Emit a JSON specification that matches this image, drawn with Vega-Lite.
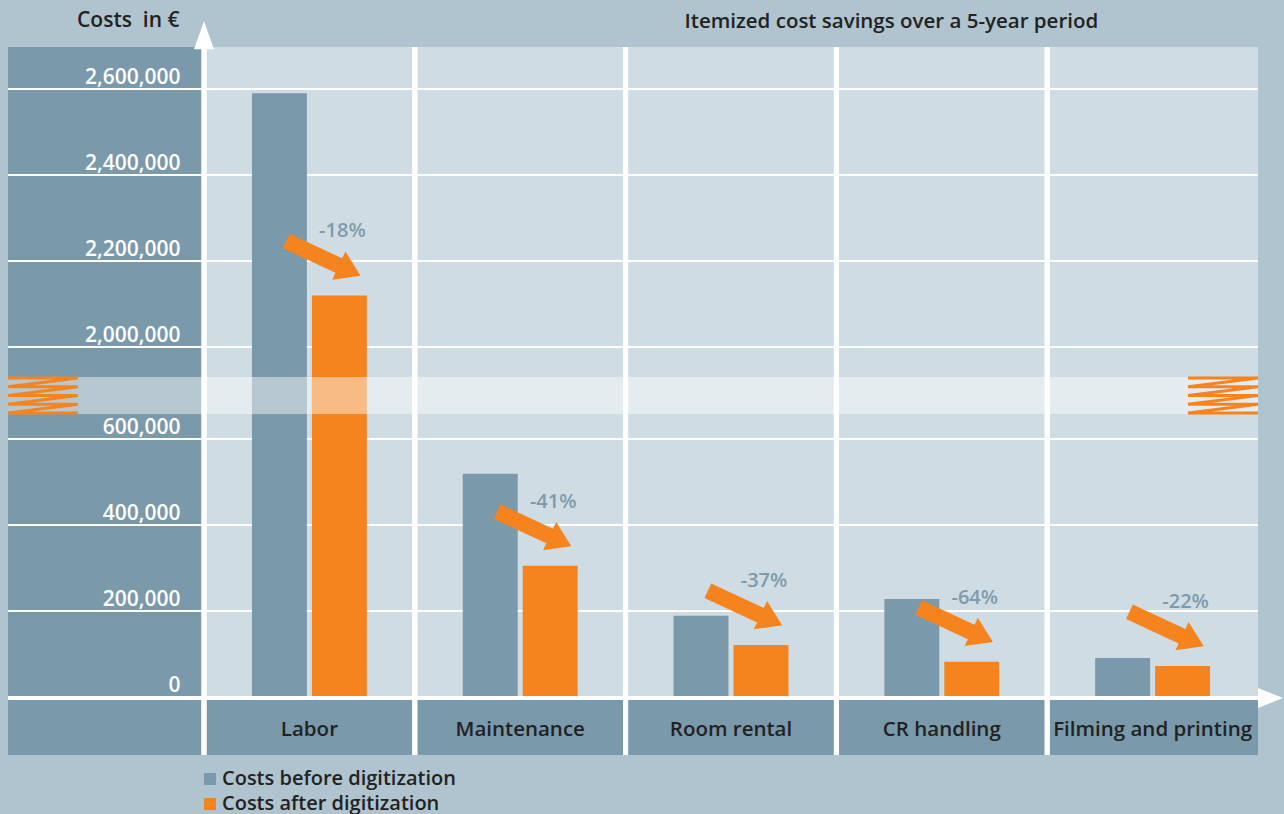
{
  "$schema": "https://vega.github.io/schema/vega-lite/v6.json",
  "width": 1250,
  "height": 708,
  "autosize": {"type": "none"},
  "padding": {"left": 8, "top": 47, "right": 26, "bottom": 59},
  "config": {
    "background": "#afc4ce",
    "view": {"fill": "#7a99aa", "stroke": null},
    "font": "Open Sans"
  },
  "datasets": {
    "costs": [
      {"category": "Labor", "series": "Costs before digitization", "value": 2590000},
      {"category": "Labor", "series": "Costs after digitization", "value": 2120000, "change": "-18%"},
      {"category": "Maintenance", "series": "Costs before digitization", "value": 519000},
      {"category": "Maintenance", "series": "Costs after digitization", "value": 305000, "change": "-41%"},
      {"category": "Room rental", "series": "Costs before digitization", "value": 189000},
      {"category": "Room rental", "series": "Costs after digitization", "value": 121000, "change": "-37%"},
      {"category": "CR handling", "series": "Costs before digitization", "value": 228000},
      {"category": "CR handling", "series": "Costs after digitization", "value": 82000, "change": "-64%"},
      {"category": "Filming and printing", "series": "Costs before digitization", "value": 90700},
      {"category": "Filming and printing", "series": "Costs after digitization", "value": 72000, "change": "-22%"}
    ],
    "gridvals": [
      {"v": 200000}, {"v": 400000}, {"v": 600000},
      {"v": 2000000}, {"v": 2200000}, {"v": 2400000}, {"v": 2600000}
    ],
    "one": [{"k": 1}],
    "heading": [{"label": "Itemized cost savings over a 5-year period"}]
  },
  "layer": [
    {
      "data": {"name": "costs"},
      "mark": {"type": "bar", "opacity": 0},
      "encoding": {
        "x": {"field": "category", "type": "nominal", "sort": null,
              "scale": {"type": "band", "domain": ["Labor", "Maintenance", "Room rental", "CR handling", "Filming and printing"], "range": [196, 1250], "paddingInner": 0, "paddingOuter": 0},
              "axis": {"orient": "bottom", "offset": -26, "domain": false, "ticks": false, "grid": false, "labelPadding": 0, "labelBaseline": "middle", "labelAngle": 0, "labelFont": "Open Sans", "labelFontSize": 20.5, "labelFontWeight": 600, "labelColor": "#222222", "labelLimit": 0, "title": null, "zindex": 1}},
        "y": {"field": "value", "type": "quantitative",
              "scale": {"type": "linear", "domain": [0, 600000, 1000000, 1500000, 2000000, 2600000], "range": [650, 392, 367, 330, 300, 42], "zero": false, "nice": false},
              "axis": {"values": [0, 200000, 400000, 600000, 2000000, 2200000, 2400000, 2600000], "format": ",d", "offset": -196, "labelPadding": 24, "ticks": false, "domain": false, "grid": false, "labelColor": "white", "labelFont": "Open Sans", "labelFontSize": 21, "labelFontWeight": 600, "labelBaseline": "alphabetic", "labelOffset": -6, "labelAlign": "right", "labelOverlap": false, "zindex": 1,
                       "title": "Costs \u00a0in €", "titleAngle": 0, "titleX": -25, "titleY": -27, "titleAlign": "right", "titleBaseline": "middle", "titleFont": "Open Sans", "titleFontSize": 21, "titleFontWeight": 600, "titleColor": "#222222"}}
      }
    },
    {
      "data": {"name": "costs"},
      "mark": {"type": "rect", "color": "#cfdce3", "clip": true},
      "encoding": {
        "x": {"field": "category", "type": "nominal", "sort": null},
        "y": {"datum": 0, "type": "quantitative"},
        "y2": {"datum": 2700000}
      }
    },
    {
      "data": {"name": "gridvals"},
      "mark": {"type": "rule", "color": "white", "strokeWidth": 2},
      "encoding": {
        "y": {"field": "v", "type": "quantitative"}
      }
    },
    {
      "data": {"name": "costs"},
      "mark": {"type": "bar"},
      "encoding": {
        "x": {"field": "category", "type": "nominal", "sort": null},
        "xOffset": {"field": "series", "type": "nominal", "sort": null,
                    "scale": {"domain": ["Costs before digitization", "Costs after digitization"], "paddingInner": 0.0833, "paddingOuter": 0.8}},
        "y": {"field": "value", "type": "quantitative"},
        "color": {"field": "series", "type": "nominal",
                  "scale": {"domain": ["Costs before digitization", "Costs after digitization"], "range": ["#7a99aa", "#f5841f"]},
                  "legend": {"orient": "none", "legendX": 192, "legendY": 722, "direction": "vertical", "title": null, "symbolType": "square", "symbolSize": 144, "symbolStrokeWidth": 0, "labelFont": "Open Sans", "labelFontSize": 20, "labelFontWeight": 600, "labelColor": "#222222", "rowPadding": 5, "labelOffset": 2, "padding": 0, "labelLimit": 0}}
      }
    },
    {
      "data": {"name": "one"},
      "mark": {"type": "rect", "color": "white", "opacity": 0.45},
      "encoding": {
        "y": {"datum": 1000000, "type": "quantitative"},
        "y2": {"datum": 1500000}
      }
    },
    {
      "data": {"name": "one"},
      "mark": {"type": "point", "shape": "M -1 -0.5 L 1 -0.5 L -1 -0.25 L 1 -0.25 L -1 0 L 1 0 L -1 0.25 L 1 0.25 L -1 0.5 L 1 0.5", "size": 4900, "filled": false, "stroke": "#f5841f", "strokeWidth": 3, "opacity": 1, "xOffset": -161},
      "encoding": {
        "x": {"datum": "Labor", "type": "nominal", "bandPosition": 0},
        "y": {"datum": 1250000, "type": "quantitative"}
      }
    },
    {
      "data": {"name": "one"},
      "mark": {"type": "point", "shape": "M -1 -0.5 L 1 -0.5 L -1 -0.25 L 1 -0.25 L -1 0 L 1 0 L -1 0.25 L 1 0.25 L -1 0.5 L 1 0.5", "size": 4900, "filled": false, "stroke": "#f5841f", "strokeWidth": 3, "opacity": 1, "xOffset": -35},
      "encoding": {
        "x": {"datum": "Filming and printing", "type": "nominal", "bandPosition": 1},
        "y": {"datum": 1250000, "type": "quantitative"}
      }
    },
    {
      "data": {"name": "costs"},
      "mark": {"type": "rule", "color": "white", "strokeWidth": 5},
      "encoding": {
        "x": {"field": "category", "type": "nominal", "bandPosition": 0}
      }
    },
    {
      "data": {"name": "one"},
      "mark": {"type": "rule", "color": "white", "strokeWidth": 4, "yOffset": 1},
      "encoding": {
        "y": {"datum": 0, "type": "quantitative"}
      }
    },
    {
      "data": {"name": "one"},
      "mark": {"type": "point", "shape": "M 0 -1 L 0.72 1 L -0.72 1 Z", "size": 784, "filled": true, "color": "white", "opacity": 1, "strokeWidth": 0},
      "encoding": {
        "x": {"datum": "Labor", "type": "nominal", "bandPosition": 0},
        "y": {"datum": 2725000, "type": "quantitative"}
      }
    },
    {
      "data": {"name": "one"},
      "mark": {"type": "point", "shape": "M 1 0 L -1 0.8 L -1 -0.8 Z", "size": 625, "filled": true, "color": "white", "opacity": 1, "strokeWidth": 0, "xOffset": 12.5, "yOffset": 1},
      "encoding": {
        "x": {"datum": "Filming and printing", "type": "nominal", "bandPosition": 1},
        "y": {"datum": 0, "type": "quantitative"}
      }
    },
    {
      "data": {"name": "costs"},
      "transform": [{"filter": "datum.series === 'Costs after digitization'"}],
      "mark": {"type": "point", "shape": "M -1 -0.195 L 0.415 -0.195 L 0.415 -0.38 L 1 0 L 0.415 0.38 L 0.415 0.195 L -1 0.195 Z", "size": 6724, "angle": 25, "filled": true, "color": "#f5841f", "opacity": 1, "strokeWidth": 0, "xOffset": 14, "yOffset": -37},
      "encoding": {
        "x": {"field": "category", "type": "nominal"},
        "y": {"field": "value", "type": "quantitative"}
      }
    },
    {
      "data": {"name": "costs"},
      "transform": [{"filter": "datum.series === 'Costs after digitization'"}],
      "mark": {"type": "text", "xOffset": 33, "yOffset": -64, "font": "Open Sans", "fontSize": 20, "fontWeight": 600, "color": "#7d9bab", "baseline": "middle", "align": "center"},
      "encoding": {
        "x": {"field": "category", "type": "nominal"},
        "y": {"field": "value", "type": "quantitative"},
        "text": {"field": "change", "type": "nominal"}
      }
    },
    {
      "data": {"name": "heading"},
      "mark": {"type": "text", "xOffset": 55, "font": "Open Sans", "fontSize": 20.5, "fontWeight": 600, "color": "#222222", "baseline": "middle", "align": "center"},
      "encoding": {
        "x": {"datum": "CR handling", "type": "nominal", "bandPosition": 0},
        "y": {"datum": 2755000, "type": "quantitative"},
        "text": {"field": "label", "type": "nominal"}
      }
    }
  ]
}
